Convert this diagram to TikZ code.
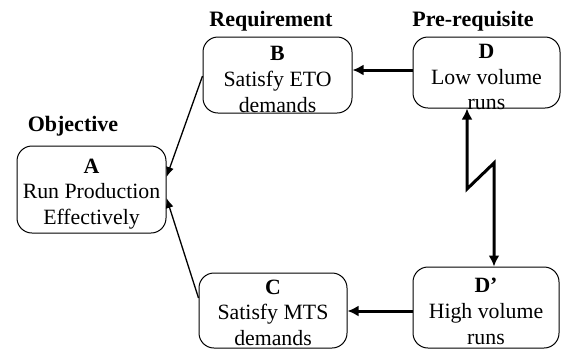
\documentclass[tikz,border=0pt]{standalone}
\usepackage{fontspec}
\setmainfont{Liberation Serif}
\usetikzlibrary{arrows.meta,calc}
\begin{document}
\begin{tikzpicture}[x=0.5pt,y=-0.5pt,
  box/.style={draw,line width=0.5pt,rounded corners=7.5pt,inner sep=0pt},
  txt/.style={align=center,inner sep=0pt,yshift=-2.3pt,font=\fontsize{10.9}{12.9}\selectfont},
  head/.style={font=\fontsize{11}{13}\selectfont\bfseries,anchor=base,inner sep=0pt},
  thin/.style={line width=0.65pt,-{Latex[length=5pt,width=4pt]}},
  thick/.style={line width=1.5pt,-{Latex[length=5.5pt,width=5.5pt]}}]
\useasboundingbox (0,0) rectangle (561,349);
\node[box,minimum width=74.5pt,minimum height=43.5pt,label={[txt]center:\textbf{A}\\Run Production\\Effectively}] (A) at (91.5,189.5) {};
\node[box,minimum width=74.5pt,minimum height=38pt,label={[txt]center:\textbf{B}\\Satisfy ETO\\demands}] (B) at (277.5,75) {};
\node[box,minimum width=73.5pt,minimum height=35.5pt,label={[txt]center:\textbf{D}\\Low volume\\runs}] (D) at (486.5,72.5) {};
\node[box,minimum width=74pt,minimum height=37.5pt,label={[txt,yshift=1.2pt]center:\textbf{C}\\Satisfy MTS\\demands}] (C) at (273,310.5) {};
\node[box,minimum width=73pt,minimum height=40.5pt,label={[txt,yshift=0.3pt]center:\textbf{D’}\\High volume\\runs}] (D2) at (486,307.5) {};
\node[head] (lo) at (73,131) {Objective};
\node[head] (lr) at (271,26) {Requirement};
\node[head] (lp) at (473,26) {Pre-requisite};
\draw[thin] ($(B.west)+(0,1)$) -- ($(A.east)+(0,-12.5)$);
\draw[thin] ($(C.west)+(0,-12.5)$) -- ($(A.east)+(0,8.5)$);
\coordinate (dd) at ($(D.west)+(0,-2.5)$);
\draw[thick] (dd) -- (dd -| B.east);
\coordinate (dc) at ($(D2.west)+(0,3.5)$);
\draw[thick] (dc) -- (dc -| C.east);
\coordinate (z1) at (467,189);
\coordinate (z2) at (494,163);
\draw[line width=1.5pt,{Latex[length=5.5pt,width=5.5pt]}-{Latex[length=5.5pt,width=5.5pt]},line join=miter]
  (z1 |- D.south) -- (z1) -- (z2) -- (z2 |- D2.north);
\end{tikzpicture}
\end{document}
